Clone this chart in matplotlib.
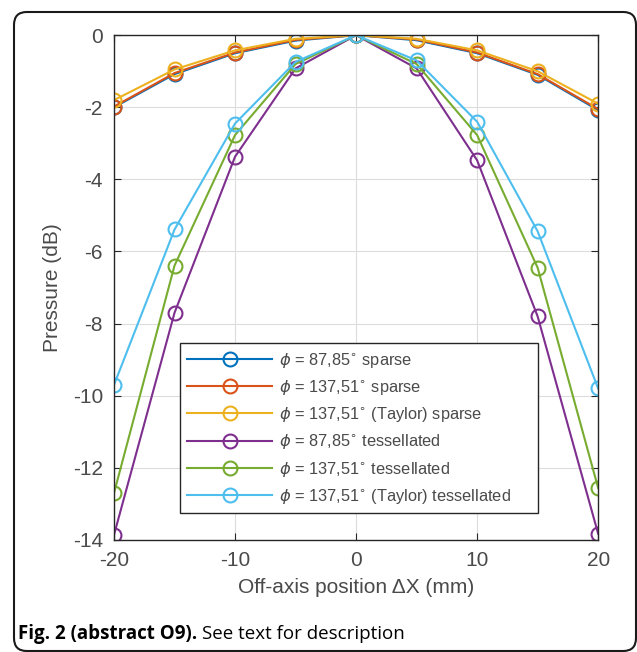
import numpy as np
import matplotlib
matplotlib.use('Agg')
import matplotlib.pyplot as plt
from matplotlib.patches import FancyBboxPatch

# data
offsets = [-20, -15, -10, -5, 0, 5, 10, 15, 20]
sparse_8785 = [-2.0, -1.08, -0.5, -0.15, 0, -0.14, -0.5, -1.1, -2.08]
sparse_13751 = [-1.98, -1.05, -0.48, -0.13, 0, -0.12, -0.48, -1.08, -2.05]
sparse_taylor = [-1.8, -0.95, -0.42, -0.1, 0, -0.1, -0.42, -1.0, -1.9]
tess_8785 = [-13.86, -7.7, -3.37, -0.92, 0, -0.92, -3.47, -7.8, -13.83]
tess_13751 = [-12.7, -6.39, -2.77, -0.8, 0, -0.8, -2.77, -6.45, -12.56]
tess_taylor = [-9.7, -5.39, -2.45, -0.74, 0, -0.7, -2.4, -5.44, -9.8]

labels = [r'$\phi$ = 87,85$^{\circ}$ sparse',
          r'$\phi$ = 137,51$^{\circ}$ sparse',
          r'$\phi$ = 137,51$^{\circ}$ (Taylor) sparse',
          r'$\phi$ = 87,85$^{\circ}$ tessellated',
          r'$\phi$ = 137,51$^{\circ}$ tessellated',
          r'$\phi$ = 137,51$^{\circ}$ (Taylor) tessellated']
series = [sparse_8785, sparse_13751, sparse_taylor, tess_8785, tess_13751, tess_taylor]
colors = ['#0072BD', '#D95319', '#EDB120', '#7E2F8E', '#77AC30', '#4DBEEE']

plt.rcParams['font.family'] = ['Liberation Sans', 'DejaVu Sans']
plt.rcParams['mathtext.fontset'] = 'dejavusans'
plt.rcParams['axes.unicode_minus'] = False

fig = plt.figure(figsize=(6.37, 6.52), dpi=100)
ax = fig.add_axes([0.179, 0.172, 0.760, 0.774])

for ys, c, lab in zip(series, colors, labels):
    ax.plot(offsets, ys, color=c, lw=1.5, marker='o', ms=10, mfc='none',
            mew=1.5, label=lab)

ax.set_xlim(-20, 20)
ax.set_ylim(-14, 0)
ax.set_xticks([-20, -10, 0, 10, 20])
ax.set_yticks(np.arange(-14, 1, 2))
ax.grid(True, color='#dcdcdc', lw=0.8)
ax.set_axisbelow(True)
ax.tick_params(direction='in', top=True, right=True, length=5, width=0.8,
               colors='#262626', labelcolor='#4a4a4a', labelsize=15, pad=8)
for s in ax.spines.values():
    s.set_color('#262626')
    s.set_linewidth(1.0)
ax.set_xlabel('Off-axis position ΔX (mm)', fontsize=15, color='#4a4a4a', labelpad=6)
ax.set_ylabel('Pressure (dB)', fontsize=15, color='#4a4a4a', labelpad=8)

leg = ax.legend(loc='lower left', bbox_to_anchor=(0.136, 0.053, 0.740, 0.337),
                mode='expand', fontsize=11.8,
                handlelength=5.2, handletextpad=0.42, labelspacing=0.5,
                borderpad=0.45, borderaxespad=0, fancybox=False, framealpha=1,
                edgecolor='#262626')
leg.get_frame().set_linewidth(1.0)
for t in leg.get_texts():
    t.set_color('#4a4a4a')

# rounded border and caption
frame = FancyBboxPatch((14 / 637, 1 - 651 / 652), 622 / 637, 639 / 652,
                       boxstyle='round,pad=0,rounding_size=0.02',
                       transform=fig.transFigure, fill=False, ec='#1a1a1a', lw=1.5)
fig.patches.append(frame)
cap1 = fig.text(18 / 637, 1 - 634 / 652, 'Fig. 2 (abstract O9).', family='Open Sans',
                fontweight='bold', fontsize=13.5, va='center', ha='left')
fig.canvas.draw()
bb = cap1.get_window_extent()
fig.text((bb.x1 + 5) / 637, 1 - 634 / 652, 'See text for description', family='Open Sans',
         fontsize=13.5, va='center', ha='left')

fig.savefig('out.png', dpi=100)
